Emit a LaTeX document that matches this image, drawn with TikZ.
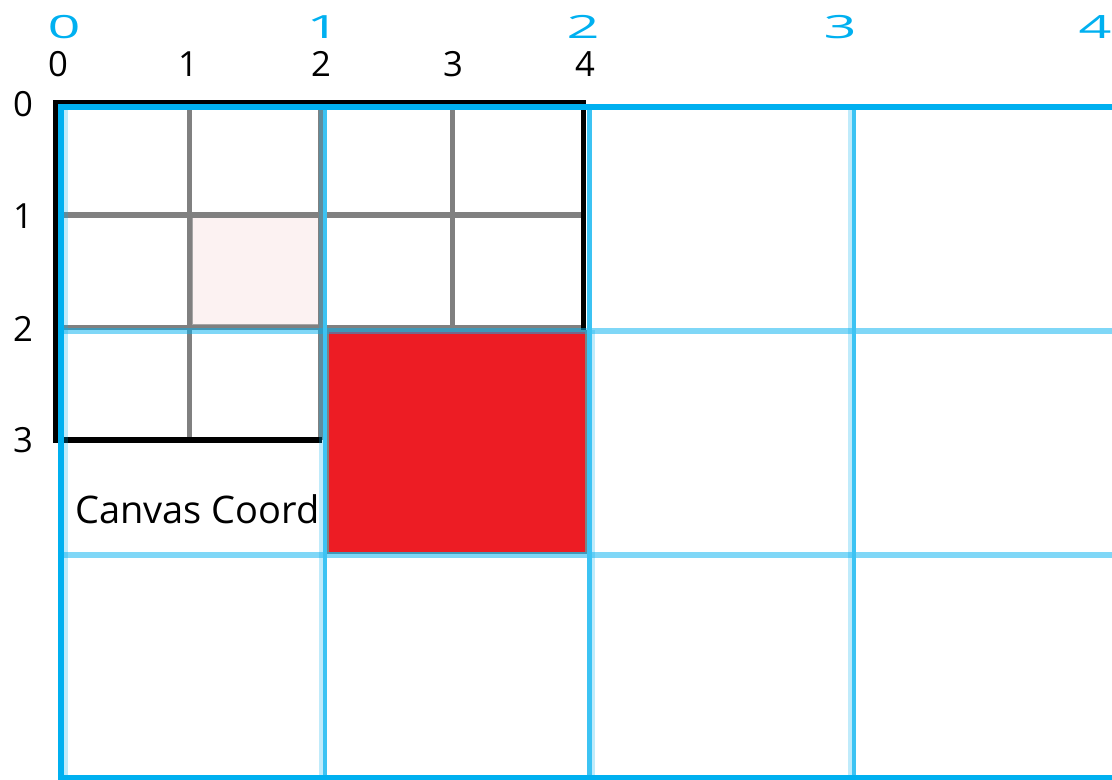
\documentclass[tikz,border=0pt]{standalone}
\usepackage{fontspec}
\usepackage{graphicx}
\setmainfont{Open Sans}
\definecolor{skyblue}{HTML}{00B0F0}
\definecolor{lineblue}{HTML}{3CC3F3}
\definecolor{gridgray}{HTML}{808080}
\definecolor{blockred}{HTML}{ED1C24}
\definecolor{palepink}{HTML}{FCF2F2}

\begin{document}
\begin{tikzpicture}[x=0.75pt, y=-0.75pt,
  cellline/.style={draw=gridgray, line width=4pt},
  frameline/.style={draw=black, line width=4.3pt},
  viewline/.style={draw=lineblue, line width=3.2pt},
  viewhalo/.style={draw=skyblue, draw opacity=0.25, line width=3.2pt},
  viewrow/.style={draw=skyblue, draw opacity=0.5, line width=4.2pt},
  viewedge/.style={draw=skyblue, line width=4.8pt},
  canvasnum/.style={font=\fontsize{26}{26}\selectfont, inner sep=0pt},
  viewnum/.style={font=\fontsize{24}{24}\selectfont, text=skyblue, inner sep=0pt},
  caption/.style={font=\fontsize{28.5}{30}\selectfont, inner sep=0pt}]
  \useasboundingbox (0,0) rectangle (1112,779);
  % canvas grid: columns 58 + 131.5 i, rows 102.5 + 112.5 j
  \fill[palepink, draw=gridgray!70, line width=1.5pt] (192,217) rectangle (320,325);
  \foreach \i in {1,2,3}
    \draw[cellline] (58+131.5*\i,102.5) -- (58+131.5*\i,440);
  \foreach \j in {1,2}
    \draw[cellline] (58,102.5+112.5*\j) -- (584,102.5+112.5*\j);
  \draw[frameline] (322,440) -- (56,440) -- (56,102.5) -- (583.5,102.5) -- (583.5,330);
  % red block
  \filldraw[fill=blockred, draw=gridgray, line width=1.8pt] (328,331) rectangle (586,553);
  % view grid: columns 61 + 264.3 i, rows 107 + 224 j
  \draw[viewhalo] (66,107) -- (66,779);
  \foreach \x in {325,854}
    \draw[viewhalo] (\x-4,107) -- (\x-4,779);
  \draw[viewhalo] (593,330) -- (593,779);
  \foreach \y in {331,555}
    \draw[viewrow] (61,\y) -- (1112,\y);
  \foreach \x in {325,589.5,854}
    \draw[viewline] (\x,107) -- (\x,779);
  \draw[viewedge] (1112,107) -- (61,107) -- (61,778) -- (1112,778);
  % labels
  \foreach \i/\x in {0/58,1/188,2/321,3/453,4/585}
    \node[canvasnum] (ctop-\i) at (\x,64) {\i};
  \foreach \j/\y in {0/104,1/216,2/329,3/440}
    \node[canvasnum] (cleft-\j) at (23,\y) {\j};
  \foreach \i/\x in {0/64,1/323,2/583,3/840,4/1095}
    \node[viewnum] (vtop-\i) at (\x,27) {\scalebox{1.8}[1]{\i}};
  \node[caption, anchor=base west] (canvas) at (75,523) {Canvas Coord};
\end{tikzpicture}
\end{document}
